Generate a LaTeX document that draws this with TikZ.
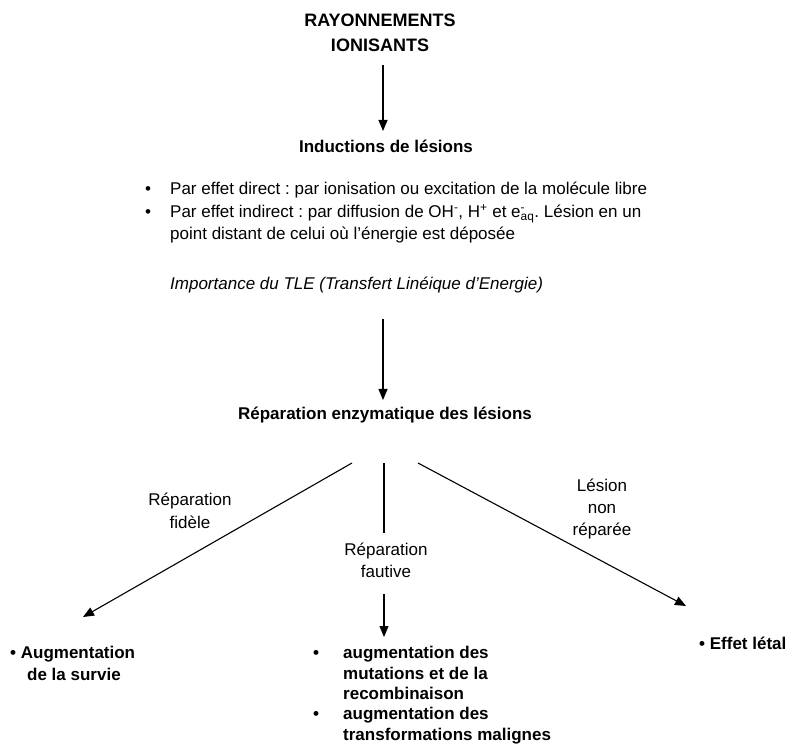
\documentclass[tikz,border=0pt]{standalone}
\usepackage{fontspec}
\setmainfont{Liberation Sans}
\usetikzlibrary{arrows.meta}
\frenchspacing
\tikzset{
  txt/.style={inner sep=0pt, font=\fontsize{17}{21}\selectfont},
  bld/.style={txt, font=\fontsize{17}{21}\selectfont\bfseries},
  ttl/.style={inner sep=0pt, font=\fontsize{18}{22}\selectfont\bfseries},
  itl/.style={txt, font=\fontsize{17}{21}\selectfont\itshape},
  conn/.style={line width=1.1pt},
  arr/.style={conn, -{Triangle[length=11pt,width=9pt]}}
}
\begin{document}
\begin{tikzpicture}[x=1pt,y=-1pt]
\useasboundingbox (0,0) rectangle (793,751);
% title
\node[ttl, anchor=base] (t1) at (380,27) {RAYONNEMENTS};
\node[ttl, anchor=base] (t2) at (380,52) {IONISANTS};
\coordinate (a1s) at (383,65);
\coordinate (a1e) at (383,131);
\node[bld, anchor=base] (ind) at (386,153) {Inductions de lésions};
\draw[arr] (a1s) -- (a1e);
% bullets
\node[txt, anchor=base] (b1) at (148,195) {\textbullet};
\node[txt, anchor=base west] (l1) at (170,195) {Par effet direct : par ionisation ou excitation de la molécule libre};
\node[txt, anchor=base] (b2) at (148,218) {\textbullet};
\node[txt, anchor=base west] (l2) at (170,218) {Par effet indirect : par diffusion de OH\textsuperscript{-}, H\textsuperscript{+} et e\rlap{\textsuperscript{-}}\textsubscript{aq}. Lésion en un};
\node[txt, anchor=base west] (l3) at (170,240) {point distant de celui où l’énergie est déposée};
\node[itl, anchor=base west] (imp) at (170,290) {Importance du TLE (Transfert Linéique d’Energie)};
% second arrow
\coordinate (a2s) at (383,319);
\coordinate (a2e) at (383,400);
\draw[arr] (a2s) -- (a2e);
\node[bld, anchor=base] (rep) at (385,420) {Réparation enzymatique des lésions};
% branches
\coordinate (ls) at (352,463);
\coordinate (le) at (83,617);
\coordinate (ms) at (384,463);
\coordinate (mm) at (384,533);
\coordinate (m2s) at (384,594);
\coordinate (m2e) at (384,637);
\coordinate (rs) at (418,463);
\coordinate (re) at (686,606);
\draw[arr] (ls) -- (le);
\draw[conn] (ms) -- (mm);
\draw[arr] (m2s) -- (m2e);
\draw[arr] (rs) -- (re);
% branch labels
\node[txt, anchor=base] (f1) at (190,505) {Réparation};
\node[txt, anchor=base] (f2) at (190,528) {fidèle};
\node[txt, anchor=base] (g1) at (386,555) {Réparation};
\node[txt, anchor=base] (g2) at (386,577) {fautive};
\node[txt, anchor=base] (n1) at (602,491) {Lésion};
\node[txt, anchor=base] (n2) at (602,513) {non};
\node[txt, anchor=base] (n3) at (602,535) {réparée};
% results
\node[bld, anchor=base west] (s1) at (10,658) {\textbullet\ Augmentation};
\node[bld, anchor=base west] (s2) at (27,680) {de la survie};
\node[bld, anchor=base] (mb1) at (316,658) {\textbullet};
\node[bld, anchor=base west] (m1) at (343,658) {augmentation des};
\node[bld, anchor=base west] (m2) at (343,679) {mutations et de la};
\node[bld, anchor=base west] (m3) at (343,699) {recombinaison};
\node[bld, anchor=base] (mb2) at (316,719) {\textbullet};
\node[bld, anchor=base west] (m4) at (343,719) {augmentation des};
\node[bld, anchor=base west] (m5) at (343,740) {transformations malignes};
\node[bld, anchor=base west] (e1) at (699,649) {\textbullet\ Effet létal};
\end{tikzpicture}
\end{document}
